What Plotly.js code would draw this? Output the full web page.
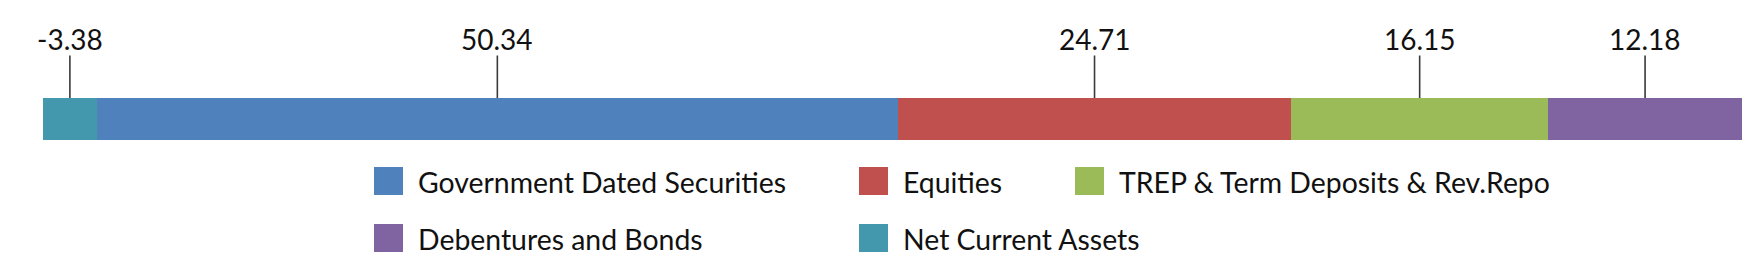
<!DOCTYPE html>
<html>
<head>
<meta charset="utf-8">
<script src="https://cdn.plot.ly/plotly-3.0.1.min.js"></script>
<style>
  html, body { margin: 0; padding: 0; background: #ffffff; }
  #chart { width: 1761px; height: 275px; }
</style>
</head>
<body>
<div id="chart"></div>
<script>
// ---- data ----
const categories = [
  "Government Dated Securities",
  "Equities",
  "TREP & Term Deposits & Rev.Repo",
  "Debentures and Bonds",
  "Net Current Assets"
];
const allocation = [50.34, 24.71, 16.15, 12.18, -3.38];
const colors = ["#4F81BD", "#C0504D", "#9BBB59", "#8064A2", "#4398AD"];

// ---- geometry (pixels) ----
const W = 1761, H = 275;
const M = { l: 43, r: 19, t: 98, b: 135 };
const plotW = W - M.l - M.r, plotH = H - M.t - M.b;
const px2x = px => (px - M.l) / plotW;
const py2y = py => (H - M.b - py) / plotH;
const FONT = "Lato, 'Open Sans', sans-serif";

// bars: one horizontal stacked (relative) bar
const traces = categories.map((c, i) => ({
  type: "bar",
  orientation: "h",
  name: c,
  x: [allocation[i]],
  y: [0],
  width: 1,
  marker: { color: colors[i], line: { width: 0 } },
  hoverinfo: "name+x",
  showlegend: false
}));

// value labels at segment centres, computed from the data
let posCum = 0, negCum = 0;
const annotations = [];
allocation.forEach((v, i) => {
  let centre;
  if (v >= 0) { centre = posCum + v / 2; posCum += v; }
  else { centre = negCum + v / 2; negCum += v; }
  annotations.push({
    x: centre, xref: "x",
    y: 1, yref: "paper",
    text: v.toFixed(2),
    height: 30, valign: "middle",
    showarrow: true, arrowhead: 0, arrowwidth: 1.6, arrowcolor: "#3a3a3a",
    ax: 0, ay: -59, standoff: 0,
    font: { family: FONT, size: 28, color: "#111111" }
  });
});

// legend: coloured squares + text, 3 per row
const legendCols = [374, 859, 1075];
const legendRows = [167, 224];
const sw = 29;
const shapes = [];
categories.forEach((c, i) => {
  const col = legendCols[i % 3], row = legendRows[Math.floor(i / 3)];
  shapes.push({
    type: "rect", xref: "paper", yref: "paper",
    x0: px2x(col), x1: px2x(col + sw),
    y0: py2y(row + sw - 1), y1: py2y(row),
    fillcolor: colors[i], line: { width: 0 }
  });
  annotations.push({
    x: px2x(col + 42), xref: "paper", xanchor: "left",
    y: py2y(row + sw / 2), yref: "paper", yanchor: "middle",
    text: c, showarrow: false,
    font: { family: FONT, size: 28.4, color: "#111111" }
  });
});

const layout = {
  width: W, height: H,
  margin: M,
  paper_bgcolor: "#ffffff", plot_bgcolor: "#ffffff",
  barmode: "relative",
  bargap: 0,
  showlegend: false,
  xaxis: { range: [negCum, posCum], visible: false, fixedrange: true },
  yaxis: { range: [-0.5, 0.5], visible: false, fixedrange: true },
  annotations: annotations,
  shapes: shapes
};

Plotly.newPlot("chart", traces, layout, { displayModeBar: false, staticPlot: true });
</script>
</body>
</html>
